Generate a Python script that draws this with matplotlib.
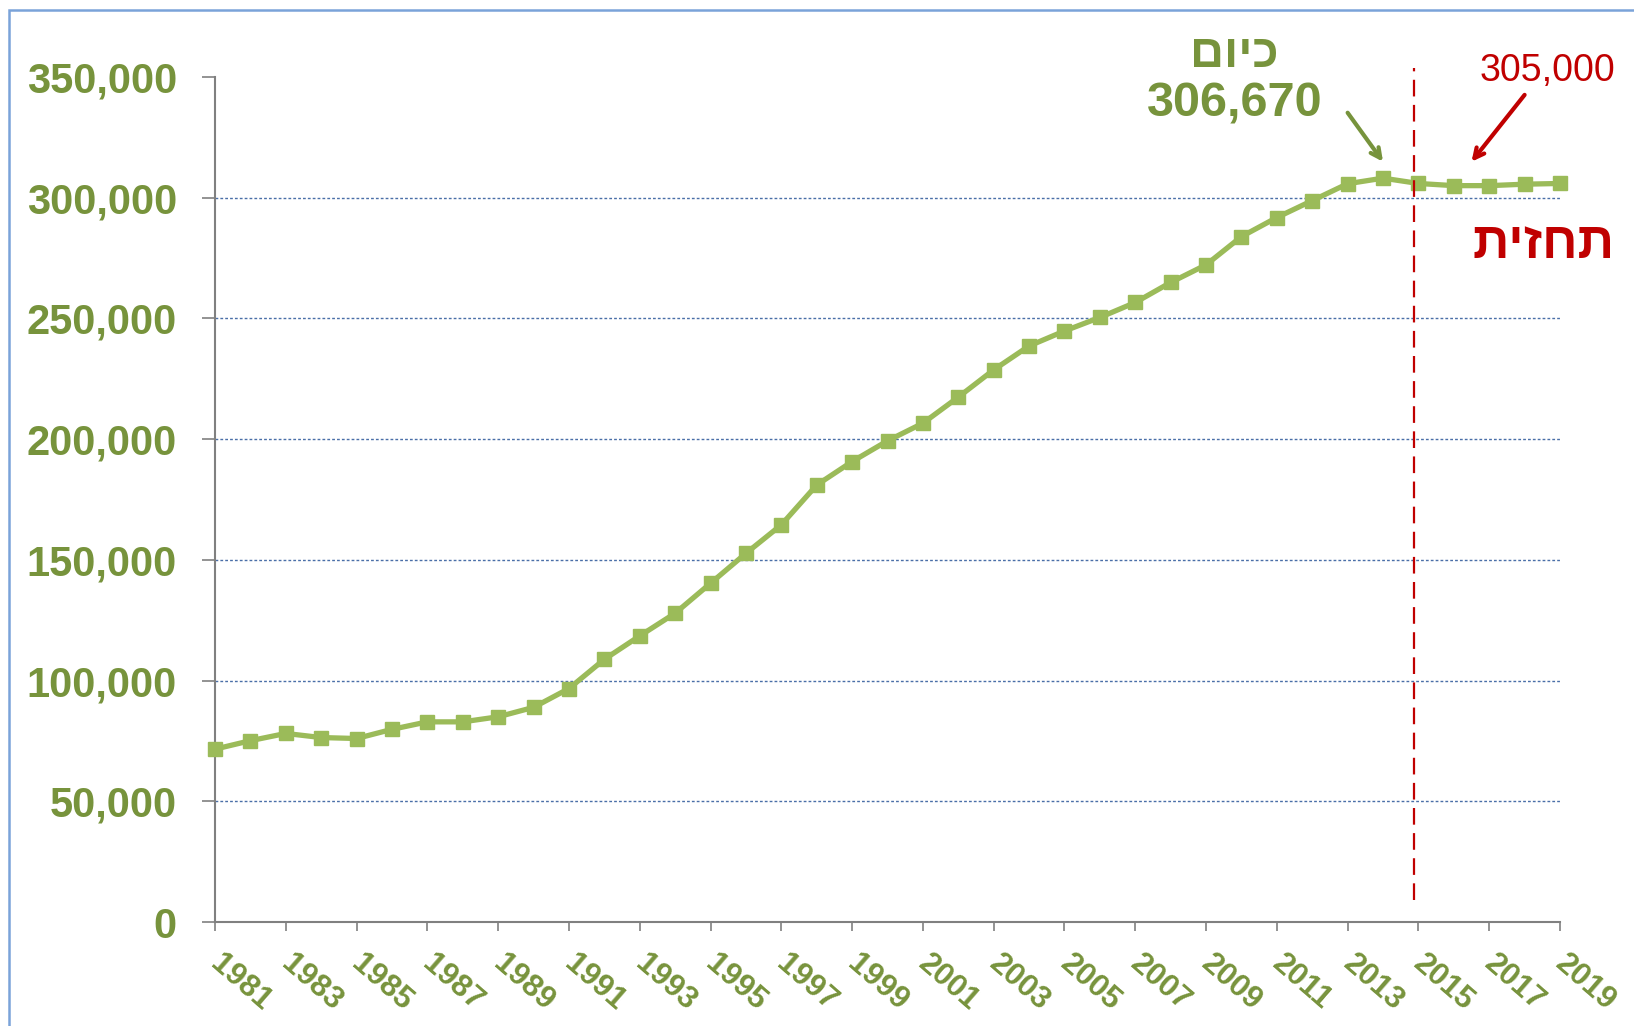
import matplotlib
matplotlib.use("Agg")
import matplotlib.pyplot as plt
from matplotlib.patches import Rectangle
from matplotlib.ticker import FuncFormatter
from matplotlib.transforms import ScaledTranslation

plt.rcParams['font.family'] = ['Liberation Sans', 'DejaVu Sans']

# data
years = list(range(1981, 2020))
values = [71600, 75100, 78100, 76400, 76000, 79800, 82900, 82900, 85000, 88900,
          96700, 108800, 118500, 127900, 140300, 152700, 164500, 181000, 190700, 199300,
          206600, 217400, 228700, 238600, 244800, 250400, 256600, 264900, 272200, 283900,
          291800, 298800, 305800, 308100, 305900, 305000, 305000, 305600, 305900]
yticks = [0, 50000, 100000, 150000, 200000, 250000, 300000, 350000]
gridvals = [50000, 100000, 150000, 200000, 250000, 300000]
xticks = list(range(1981, 2020, 2))
forecast_x = 2014.87

label_today = "כיום"
label_today_val = "306,670"
label_fc = "תחזית"
label_fc_val = "305,000"

GREEN = '#9bbb59'
DKGREEN = '#77933c'
RED = '#c00000'


def rtl(s):
	# matplotlib has no bidi support, so flip hebrew for display
	return s[::-1]


fig = plt.figure(figsize=(16.34, 10.26), dpi=100)
ax = fig.add_axes([215/1634, 1-922/1026, (1560-215)/1634, (922-77)/1026])

ax.hlines(gridvals, years[0], years[-1], colors='#4a6fa8', linestyles=(0, (2, 1.5)), linewidth=1, zorder=1)
ax.plot(years, values, color=GREEN, lw=3.8, marker='s', markersize=10.5, clip_on=False, zorder=3)

ax.plot([forecast_x, forecast_x], [9100, 353800], color=RED, lw=1.6, dashes=(7.5, 3.8), clip_on=False, zorder=4)

ax.set_xlim(years[0], years[-1])
ax.set_ylim(0, 350000)
ax.set_yticks(yticks)
ax.yaxis.set_major_formatter(FuncFormatter(lambda v, p: f"{int(v):,}"))
ax.set_xticks(xticks)
ax.set_xticklabels([str(y) for y in xticks], rotation=-41, ha='left', va='top', rotation_mode='anchor')

for s in ['top', 'right']:
	ax.spines[s].set_visible(False)
for s in ['left', 'bottom']:
	ax.spines[s].set_color('#808080')
	ax.spines[s].set_linewidth(1.5)

ax.tick_params(axis='y', length=9.5, width=1.2, color='#808080', pad=18, labelsize=30, labelcolor=DKGREEN)
ax.tick_params(axis='x', length=6.5, width=1.2, color='#808080', pad=13, labelsize=22.5, labelcolor=DKGREEN)
for t in ax.get_yticklabels() + ax.get_xticklabels():
	t.set_fontweight('bold')
shift = ScaledTranslation(9/100, 0, fig.dpi_scale_trans)
for t in ax.get_xticklabels():
	t.set_transform(t.get_transform() + shift)

# annotations
fig.text(1234/1634, 1-55/1026, rtl(label_today), ha='center', va='center', fontsize=34, fontweight='bold', color=DKGREEN)
fig.text(1235/1634, 1-104/1026, label_today_val, ha='center', va='center', fontsize=35, fontweight='bold', color=DKGREEN)
fig.text(1547/1634, 1-71/1026, label_fc_val, ha='center', va='center', fontsize=27, color=RED)
fig.text(1544/1634, 1-245/1026, rtl(label_fc), ha='center', va='center', fontsize=36.5, fontweight='bold', color=RED)

ax.annotate('', xy=(2014.0, 314900), xytext=(2013.0, 335200),
	arrowprops=dict(arrowstyle='->,head_length=0.7,head_width=0.35', color=DKGREEN, lw=3, shrinkA=0, shrinkB=0),
	annotation_clip=False)
ax.annotate('', xy=(2016.5, 314900), xytext=(2018.0, 342600),
	arrowprops=dict(arrowstyle='->,head_length=0.7,head_width=0.35', color=RED, lw=3, shrinkA=0, shrinkB=0),
	annotation_clip=False)

# light blue frame
fig.patches.append(Rectangle((9/1634, -0.1), 1.2, 1.1-10/1026, transform=fig.transFigure,
	fill=False, edgecolor='#7aa3d9', lw=1.8))

fig.savefig('out.png', dpi=100)
